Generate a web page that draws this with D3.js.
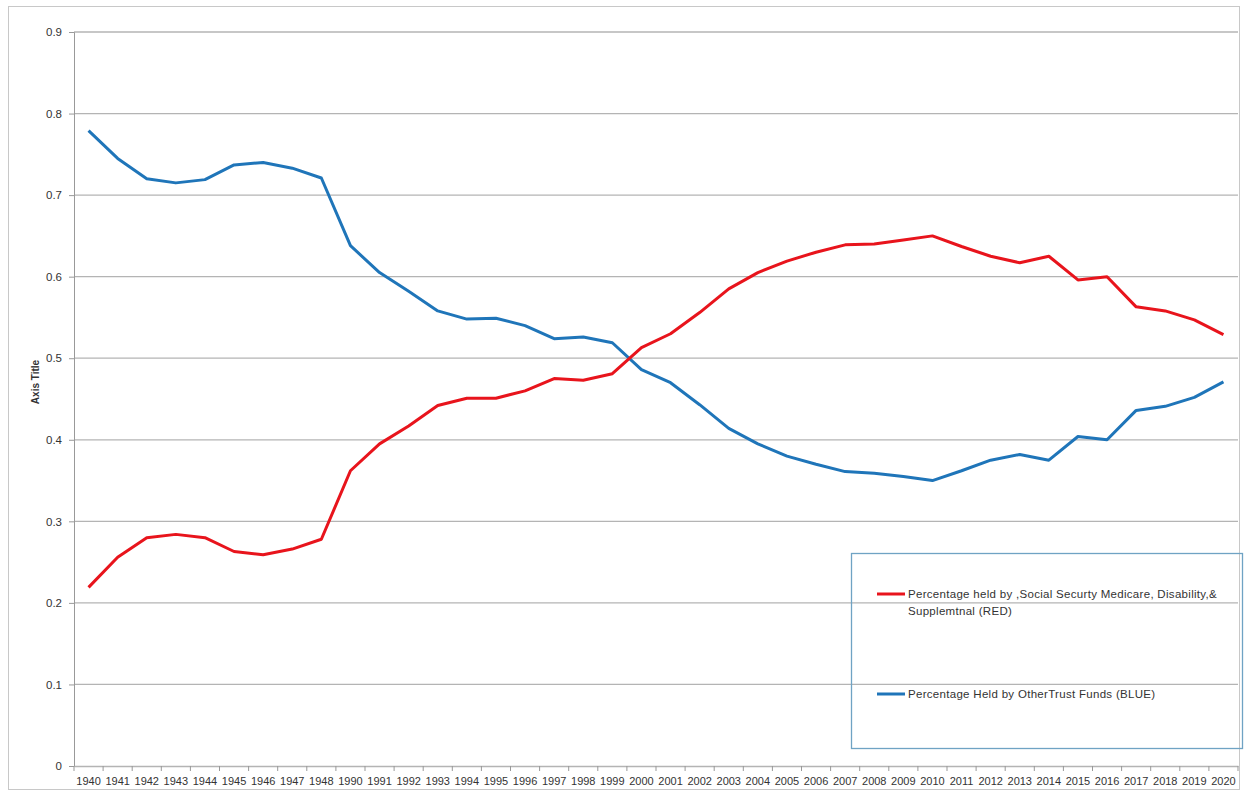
<!DOCTYPE html>
<html lang="en">
<head>
    <meta charset="UTF-8">
    <title>Trust fund holdings</title>
    <script src="https://d3js.org/d3.v7.min.js"></script>
    <style>
        body{ margin: 0; background: #fff; }
        text{ font-family: "Liberation Sans", Arial, sans-serif; fill: #333; }
    </style>
</head>
<body>
    <svg id='chart' width="1244" height="793"></svg>

    <script>
        // categories on the x axis
        let years = ["1940","1941","1942","1943","1944","1945","1946","1947","1948",
            "1990","1991","1992","1993","1994","1995","1996","1997","1998","1999",
            "2000","2001","2002","2003","2004","2005","2006","2007","2008","2009",
            "2010","2011","2012","2013","2014","2015","2016","2017","2018","2019","2020"]

        // red series
        let socialSecurity = [0.219,0.256,0.280,0.284,0.280,0.263,0.259,0.266,0.278,
            0.362,0.395,0.417,0.442,0.451,0.451,0.460,0.475,0.473,0.481,
            0.513,0.530,0.556,0.585,0.605,0.619,0.630,0.639,0.640,0.645,
            0.650,0.637,0.625,0.617,0.625,0.596,0.600,0.563,0.558,0.547,0.529]

        // blue series
        let otherTrust = [0.779,0.745,0.720,0.715,0.719,0.737,0.740,0.733,0.721,
            0.638,0.605,0.582,0.558,0.548,0.549,0.540,0.524,0.526,0.519,
            0.486,0.470,0.443,0.414,0.395,0.380,0.370,0.361,0.359,0.355,
            0.350,0.362,0.375,0.382,0.375,0.404,0.400,0.436,0.441,0.452,0.471]

        let yTicks = [0,0.1,0.2,0.3,0.4,0.5,0.6,0.7,0.8,0.9]

        let legendLabels = [
            ["Percentage held by ,Social Securty Medicare, Disability,&", "Supplemtnal (RED)"],
            ["Percentage Held by OtherTrust Funds (BLUE)"]
        ]
        let colors = ["#e8141c", "#1f75b9"]

        let svg = d3.select("#chart")

        // outer frame
        svg.append("rect")
            .attr("x", 8.5).attr("y", 6.5)
            .attr("width", 1231).attr("height", 783)
            .attr("fill", "none")
            .attr("stroke", "#c8c8c8")

        let plotLeft = 74, plotRight = 1238, plotTop = 32, plotBottom = 766

        let x = d3.scaleBand().domain(years).range([plotLeft, plotRight])
        let y = d3.scaleLinear().domain([0, 0.9]).range([plotBottom, plotTop])

        // gridlines
        svg.append("g")
            .selectAll("line")
            .data(yTicks.slice(1))
            .join("line")
            .attr("x1", plotLeft).attr("x2", plotRight)
            .attr("y1", d => y(d)).attr("y2", d => y(d))
            .attr("stroke", "#b4b4b4")
            .attr("stroke-width", 1.3)

        // y axis
        let yAxis = svg.append("g")
            .attr("transform", `translate(${plotLeft},0)`)
            .call(d3.axisLeft(y).tickValues(yTicks).tickSize(5).tickPadding(7)
                .tickFormat(d => d === 0 ? "0" : d3.format(".1f")(d)))
        yAxis.select(".domain").attr("stroke", "#999")
        yAxis.selectAll(".tick line").attr("stroke", "#999")
        yAxis.selectAll("text").attr("font-size", 11.5).attr("fill", "#333")
            .attr("font-family", "'Liberation Sans', Arial, sans-serif")

        // x axis, ticks between categories like a spreadsheet chart
        let xAxis = svg.append("g")
            .attr("transform", `translate(0,${plotBottom})`)
            .call(d3.axisBottom(x).tickSize(0).tickPadding(11))
        xAxis.select(".domain").attr("stroke", "#b4b4b4").attr("stroke-width", 1.3)
        xAxis.selectAll("text").attr("font-size", 11).attr("fill", "#222")
            .attr("font-family", "'Liberation Sans', Arial, sans-serif")
        xAxis.append("g")
            .selectAll("line")
            .data(years.concat(["end"]))
            .join("line")
            .attr("x1", (d, i) => plotLeft + i * x.step())
            .attr("x2", (d, i) => plotLeft + i * x.step())
            .attr("y1", 0).attr("y2", 5)
            .attr("stroke", "#999")

        // axis title
        svg.append("text")
            .attr("transform", "translate(39,382) rotate(-90)")
            .attr("text-anchor", "middle")
            .attr("font-size", 10)
            .attr("font-weight", "bold")
            .attr("fill", "#222")
            .text("Axis Title")

        let line = d3.line()
            .x((d, i) => x(years[i]) + x.bandwidth() / 2)
            .y(d => y(d))

        svg.append("path")
            .datum(otherTrust)
            .attr("d", line)
            .attr("fill", "none")
            .attr("stroke", colors[1])
            .attr("stroke-width", 3)
            .attr("stroke-linejoin", "round")

        svg.append("path")
            .datum(socialSecurity)
            .attr("d", line)
            .attr("fill", "none")
            .attr("stroke", colors[0])
            .attr("stroke-width", 3)
            .attr("stroke-linejoin", "round")

        // legend box
        let legend = svg.append("g")
        legend.append("rect")
            .attr("x", 851.5).attr("y", 553.5)
            .attr("width", 391).attr("height", 195)
            .attr("fill", "none")
            .attr("stroke", "#6fa3c4")
            .attr("stroke-width", 1.3)

        let legendY = [594, 694]
        legendLabels.forEach(function(lines, i){
            legend.append("line")
                .attr("x1", 877).attr("x2", 905)
                .attr("y1", legendY[i]).attr("y2", legendY[i])
                .attr("stroke", colors[i])
                .attr("stroke-width", 3)
            let t = legend.append("text")
                .attr("x", 908).attr("y", legendY[i] + 4)
                .attr("font-size", 11.5)
                .attr("letter-spacing", 0.3)
                .attr("fill", "#222")
            lines.forEach(function(s, j){
                t.append("tspan")
                    .attr("x", 908)
                    .attr("dy", j === 0 ? 0 : 17)
                    .text(s)
            })
        })
    </script>
</body>
</html>
